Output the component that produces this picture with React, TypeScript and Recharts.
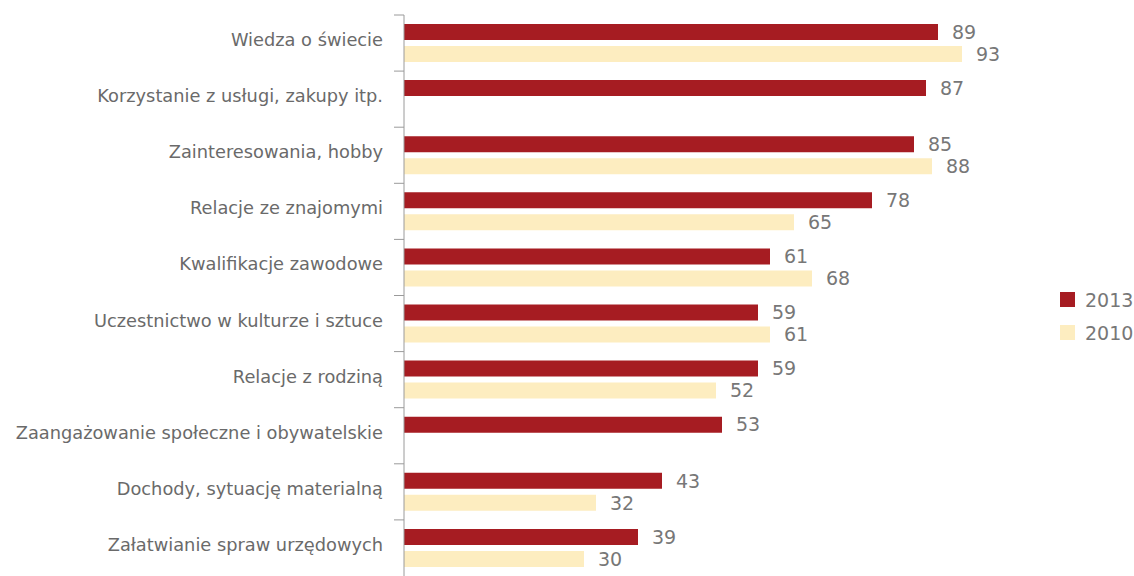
import React from 'react';
import { BarChart, Bar, XAxis, YAxis, Legend, LabelList } from 'recharts';

const categories = [
  'Wiedza o świecie',
  'Korzystanie z usługi, zakupy itp.',
  'Zainteresowania, hobby',
  'Relacje ze znajomymi',
  'Kwalifikacje zawodowe',
  'Uczestnictwo w kulturze i sztuce',
  'Relacje z rodziną',
  'Zaangażowanie społeczne i obywatelskie',
  'Dochody, sytuację materialną',
  'Załatwianie spraw urzędowych',
];
const values2013 = [89, 87, 85, 78, 61, 59, 59, 53, 43, 39];
const values2010: (number | null)[] = [93, null, 88, 65, 68, 61, 52, null, 32, 30];
const seriesNames = ['2013', '2010'];
const seriesColors = ['#A61C22', '#FDEDC0'];

const data = categories.map((c, i) => ({ name: c, y2013: values2013[i], y2010: values2010[i] }));

const W = 1134;
const H = 576;
const MARGIN = { top: 15, right: 0, bottom: 0, left: 0 };
const YW = 404;
const BAND = (H - MARGIN.top - MARGIN.bottom) / categories.length;
const FONT = '"DejaVu Sans", sans-serif';

const CatTick = (props: any) => {
  const { x, y, payload } = props;
  return (
    <g>
      <line x1={YW - 10} x2={YW} y1={y - BAND / 2} y2={y - BAND / 2} stroke="#9a9a9a" strokeWidth={1} />
      <text x={x} y={y} dy={3} textAnchor="end" fill="#6a6a6a" fontSize={17.8} fontFamily={FONT}>
        {payload.value}
      </text>
    </g>
  );
};

const LegendContent = () => (
  <div style={{ paddingLeft: 56, fontFamily: FONT }}>
    {seriesNames.map((n, i) => (
      <div key={n} style={{ display: 'flex', alignItems: 'center', height: 33 }}>
        <div style={{ width: 15, height: 15, background: seriesColors[i], marginRight: 10 }} />
        <span style={{ fontSize: 19, color: '#777' }}>{n}</span>
      </div>
    ))}
  </div>
);

export default function App() {
  return (
    <div style={{ position: 'absolute', left: 0, top: 0, width: W, height: H, background: '#fff' }}>
      <BarChart width={W} height={H} data={data} layout="vertical" margin={MARGIN} barSize={16} barGap={6}>
        <XAxis type="number" domain={[0, 100]} hide />
        <YAxis
          type="category"
          dataKey="name"
          width={YW}
          axisLine={{ stroke: '#9a9a9a' }}
          tickLine={false}
          tickSize={0}
          tickMargin={21}
          tick={<CatTick />}
          interval={0}
        />
        <Legend
          layout="vertical"
          align="right"
          verticalAlign="middle"
          content={<LegendContent />}
          wrapperStyle={{ width: 130, top: 283 }}
        />
        <Bar dataKey="y2013" name="2013" fill={seriesColors[0]} isAnimationActive={false}>
          <LabelList dataKey="y2013" position="right" offset={14} fill="#777" fontSize={19} fontFamily={FONT} />
        </Bar>
        <Bar dataKey="y2010" name="2010" fill={seriesColors[1]} isAnimationActive={false}>
          <LabelList dataKey="y2010" position="right" offset={14} fill="#777" fontSize={19} fontFamily={FONT} />
        </Bar>
      </BarChart>
    </div>
  );
}
